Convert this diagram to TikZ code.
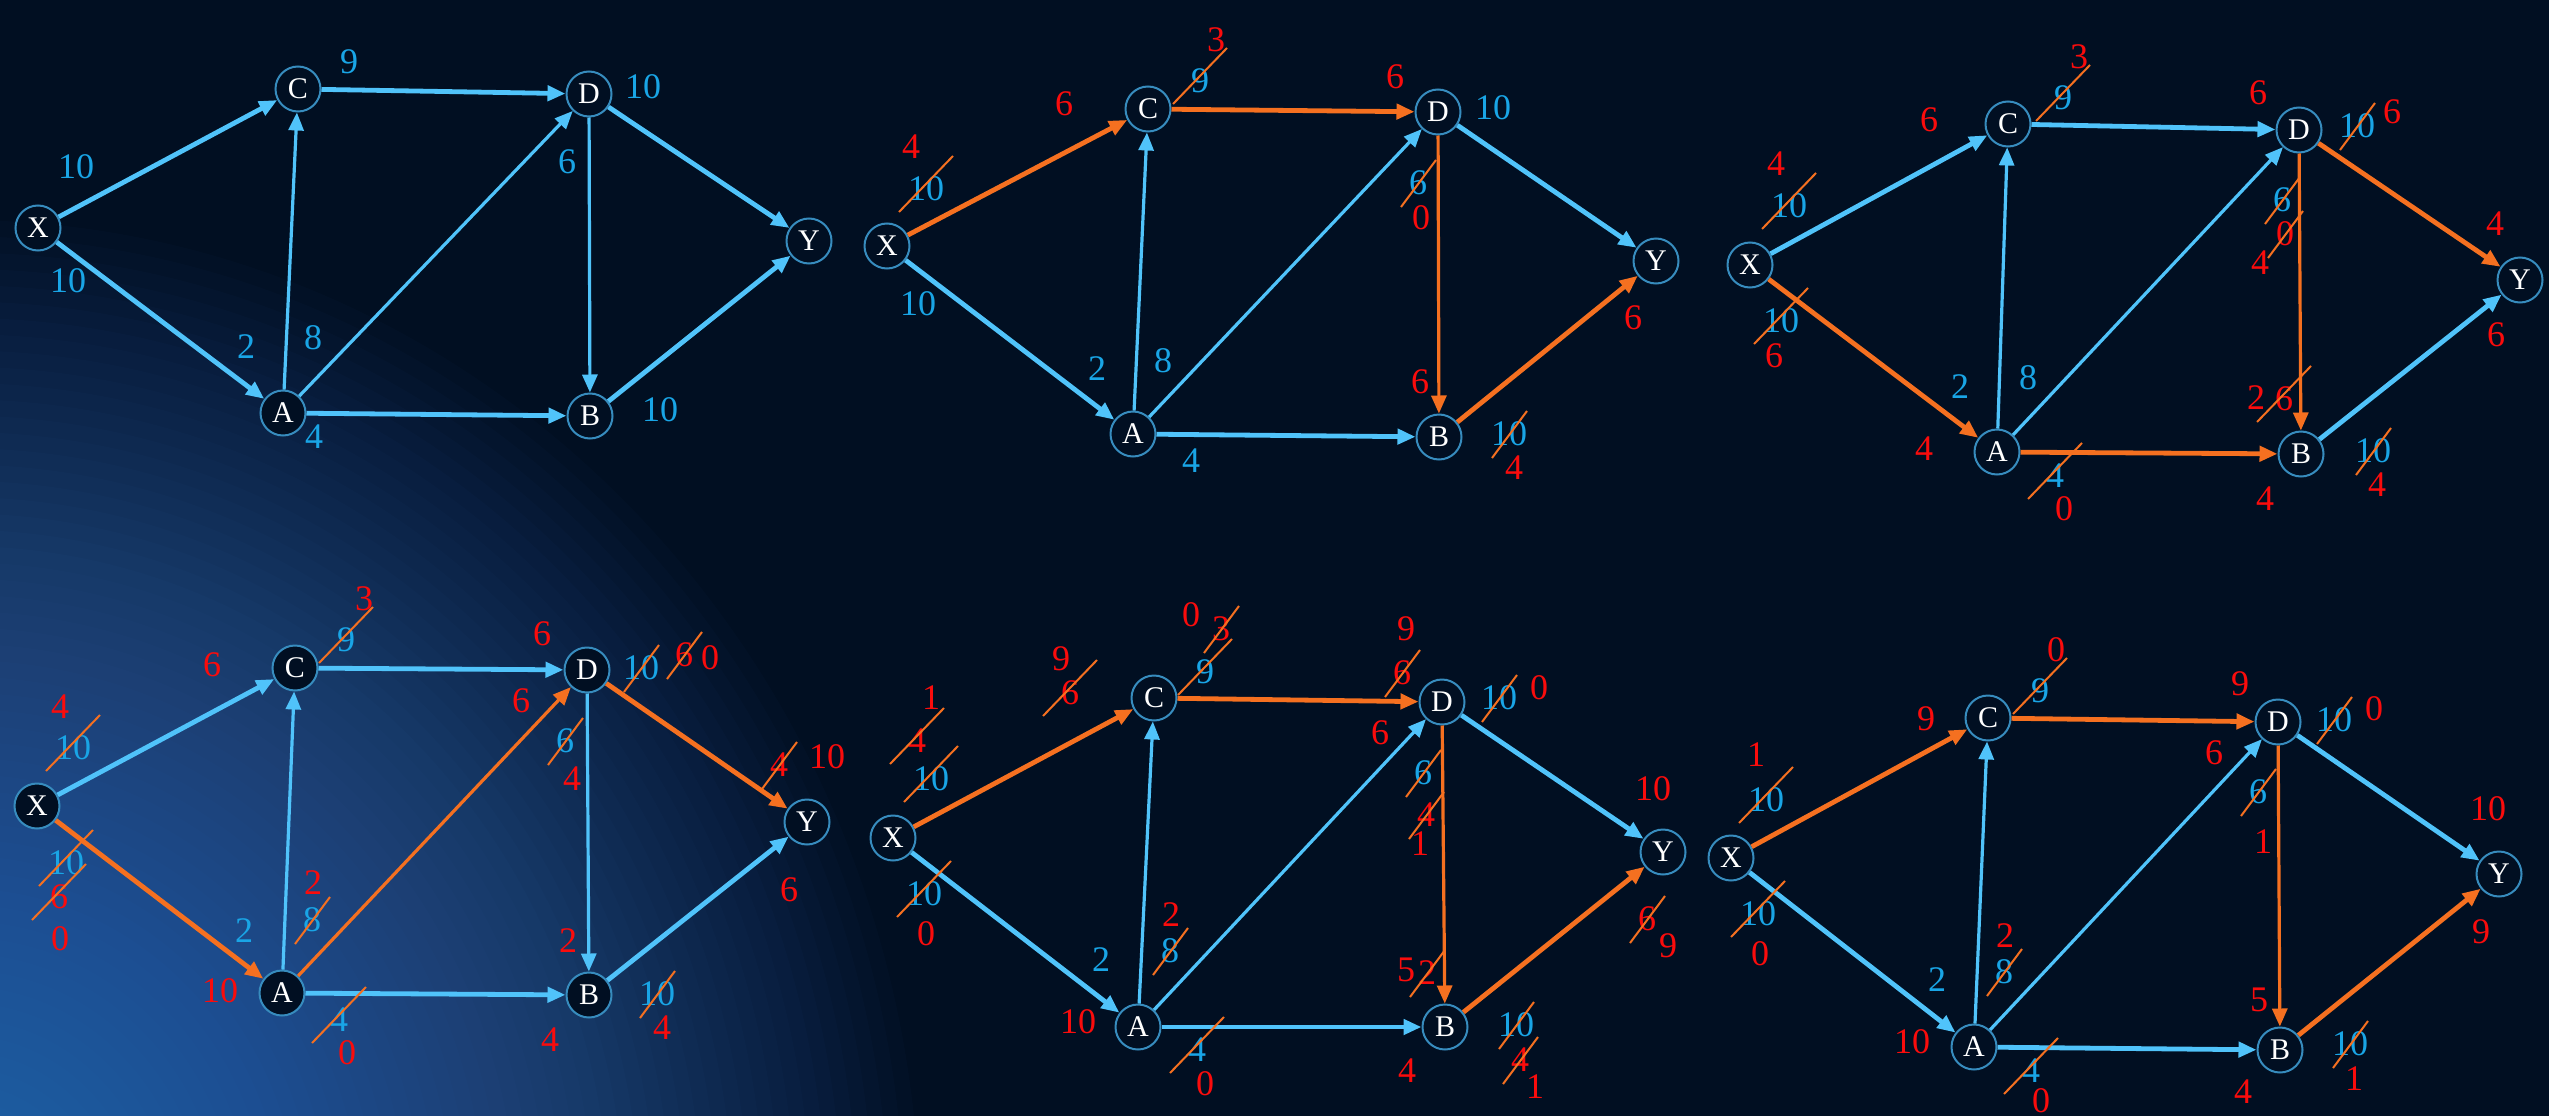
\documentclass[tikz,border=0pt]{standalone}
\usepackage{fontspec}
\setmainfont{Liberation Serif}
\usetikzlibrary{arrows.meta}
\usepackage{xcolor}
\definecolor{bgnavy}{RGB}{1,15,34}
\definecolor{glowblue}{RGB}{70,140,230}
\definecolor{edgeblue}{RGB}{80,195,250}
\definecolor{capblue}{RGB}{25,165,230}
\definecolor{flowred}{RGB}{250,12,12}
\definecolor{floworange}{RGB}{245,112,32}
\definecolor{ringblue}{RGB}{55,140,190}
\tikzset{
  vertex/.style={circle, draw=ringblue, line width=2pt, fill=bgnavy, minimum size=45pt, inner sep=0pt, text=white, font=\fontsize{30}{30}\selectfont},
  capnum/.style={text=capblue, inner sep=0pt, font=\fontsize{36}{36}\selectfont},
  flownum/.style={text=flowred, inner sep=0pt, font=\fontsize{36}{36}\selectfont},
  strikeline/.style={draw=floworange, line width=2pt},
  cutlong/.style={append after command={([shift={(-27,23)}]\tikzlastnode.center) edge[strikeline] ([shift={(27,-33)}]\tikzlastnode.center)}},
  cutshort/.style={append after command={([shift={(-17,24)}]\tikzlastnode.center) edge[strikeline] ([shift={(18,-23)}]\tikzlastnode.center)}},
  capcut/.style={capnum, cutlong},
  capcutshort/.style={capnum, cutshort},
  flowcut/.style={flownum, cutlong},
  flowcutshort/.style={flownum, cutshort},
  arrowtip/.style={-{Triangle[length=18pt, width=15pt]}},
  bluewide/.style={arrowtip, draw=edgeblue, line width=4.8pt},
  bluethin/.style={arrowtip, draw=edgeblue, line width=3.2pt},
  orwide/.style={arrowtip, draw=floworange, line width=4.8pt},
  orthin/.style={arrowtip, draw=floworange, line width=3.2pt}
}

\begin{document}
\begin{tikzpicture}[x=1pt, y=-1pt]
\useasboundingbox (0,0) rectangle (2549,1116);
\fill[bgnavy] (0,0) rectangle (2549,1116);
\begin{scope}
  \clip (0,0) rectangle (2549,1116);
  % soft glow in the lower left corner
  \foreach \r in {0,...,59}
    \fill[glowblue, fill opacity=0.022] (-40,1230) ellipse [x radius={960-\r*15.5}, y radius={1010-\r*16.3}];
\end{scope}

% panel 1
\node[vertex] (X1) at (38,228) {X};
\node[vertex] (C1) at (298,89) {C};
\node[vertex] (D1) at (589,94) {D};
\node[vertex] (Y1) at (809,241) {Y};
\node[vertex] (A1) at (283,413) {A};
\node[vertex] (B1) at (590,416) {B};
\foreach \a/\b/\s in {X/C/bluewide, X/A/bluewide, A/C/bluethin, C/D/bluewide, A/D/bluethin, A/B/bluewide, D/B/bluethin, D/Y/bluewide, B/Y/bluewide}
  \draw[\s] (\a1) -- (\b1);
\foreach \x/\y/\s/\t [count=\i] in {349/62/capnum/9, 643/87/capnum/10, 76/167/capnum/10, 68/281/capnum/10, 567/162/capnum/6, 246/347/capnum/2, 313/338/capnum/8, 314/437/capnum/4, 660/410/capnum/10}
  \node[\s] (n1-\i) at (\x,\y) {\t};

% panel 2
\node[vertex] (X2) at (887,246) {X};
\node[vertex] (C2) at (1148,109) {C};
\node[vertex] (D2) at (1438,112) {D};
\node[vertex] (Y2) at (1656,261) {Y};
\node[vertex] (A2) at (1133,434) {A};
\node[vertex] (B2) at (1439,437) {B};
\foreach \a/\b/\s in {X/C/orwide, X/A/bluewide, A/C/bluethin, C/D/orwide, A/D/bluethin, A/B/bluewide, D/B/orthin, D/Y/bluewide, B/Y/orwide}
  \draw[\s] (\a2) -- (\b2);
\foreach \x/\y/\s/\t [count=\i] in {1216/40/flownum/3, 1200/81/capcut/9, 1064/104/flownum/6, 911/147/flownum/4, 926/189/capcut/10, 1395/77/flownum/6, 1493/108/capnum/10, 1418/183/capcutshort/6, 1421/218/flownum/0, 918/304/capnum/10, 1097/369/capnum/2, 1163/361/capnum/8, 1420/382/flownum/6, 1191/461/capnum/4, 1509/434/capcutshort/10, 1514/468/flownum/4, 1633/318/flownum/6}
  \node[\s] (n2-\i) at (\x,\y) {\t};

% panel 3
\node[vertex] (X3) at (1750,265) {X};
\node[vertex] (C3) at (2008,124) {C};
\node[vertex] (D3) at (2299,130) {D};
\node[vertex] (Y3) at (2520,280) {Y};
\node[vertex] (A3) at (1997,452) {A};
\node[vertex] (B3) at (2301,454) {B};
\foreach \a/\b/\s in {X/C/bluewide, X/A/orwide, A/C/bluethin, C/D/bluewide, A/D/bluethin, A/B/orwide, D/B/orthin, D/Y/orwide, B/Y/bluewide}
  \draw[\s] (\a3) -- (\b3);
\foreach \x/\y/\s/\t [count=\i] in {2079/57/flownum/3, 2063/98/capcut/9, 1929/120/flownum/6, 1776/164/flownum/4, 1789/206/capcut/10, 1781/321/capcut/10, 1774/356/flownum/6, 1924/449/flownum/4, 1960/387/capnum/2, 2028/378/capnum/8, 2055/476/capcut/4, 2064/509/flownum/0, 2258/93/flownum/6, 2357/126/capcutshort/10, 2392/112/flownum/6, 2282/200/capcutshort/6, 2285/234/flowcutshort/0, 2260/263/flownum/4, 2256/398/flownum/2, 2284/399/flowcut/6, 2265/499/flownum/4, 2373/451/capcutshort/10, 2377/485/flownum/4, 2495/224/flownum/4, 2496/335/flownum/6}
  \node[\s] (n3-\i) at (\x,\y) {\t};

% panel 4
\node[vertex] (X4) at (37,806) {X};
\node[vertex] (C4) at (295,668) {C};
\node[vertex] (D4) at (587,670) {D};
\node[vertex] (Y4) at (807,822) {Y};
\node[vertex] (A4) at (282,993) {A};
\node[vertex] (B4) at (589,995) {B};
\foreach \a/\b/\s in {X/C/bluewide, X/A/orwide, A/C/bluethin, C/D/bluewide, A/D/orthin, A/B/bluewide, D/B/bluethin, D/Y/orwide, B/Y/bluewide}
  \draw[\s] (\a4) -- (\b4);
\foreach \x/\y/\s/\t [count=\i] in {364/599/flownum/3, 346/640/capcut/9, 212/665/flownum/6, 60/707/flownum/4, 73/748/capcut/10, 66/863/capcut/10, 59/897/flowcut/6, 60/939/flownum/0, 220/991/flownum/10, 244/931/capnum/2, 313/883/flownum/2, 312/920/capcutshort/8, 339/1020/capcut/4, 347/1053/flownum/0, 542/634/flownum/6, 641/668/capcutshort/10, 684/655/flowcutshort/6, 710/658/flownum/0, 521/701/flownum/6, 565/741/capcutshort/6, 572/779/flownum/4, 568/941/flownum/2, 550/1040/flownum/4, 657/994/capcutshort/10, 662/1028/flownum/4, 779/765/flowcutshort/4, 827/757/flownum/10, 789/890/flownum/6}
  \node[\s] (n4-\i) at (\x,\y) {\t};

% panel 5
\node[vertex] (X5) at (893,838) {X};
\node[vertex] (C5) at (1154,698) {C};
\node[vertex] (D5) at (1442,702) {D};
\node[vertex] (Y5) at (1663,852) {Y};
\node[vertex] (A5) at (1138,1027) {A};
\node[vertex] (B5) at (1445,1027) {B};
\foreach \a/\b/\s in {X/C/orwide, X/A/bluewide, A/C/bluethin, C/D/orwide, A/D/bluethin, A/B/bluewide, D/B/orthin, D/Y/bluewide, B/Y/orwide}
  \draw[\s] (\a5) -- (\b5);
\foreach \x/\y/\s/\t [count=\i] in {1191/615/flownum/0, 1221/629/flowcutshort/3, 1205/672/capcut/9, 1061/659/flownum/9, 1070/693/flowcut/6, 931/698/flownum/1, 917/741/flowcut/4, 931/779/capcut/10, 924/894/capcut/10, 926/934/flownum/0, 1078/1022/flownum/10, 1101/960/capnum/2, 1171/915/flownum/2, 1170/951/capcutshort/8, 1197/1050/capcut/4, 1205/1084/flownum/0, 1406/629/flownum/9, 1402/673/flowcutshort/6, 1499/698/capcutshort/10, 1539/688/flownum/0, 1380/733/flownum/6, 1423/773/capcutshort/6, 1426/815/flowcutshort/4, 1420/844/flownum/1, 1406/970/flownum/5, 1427/973/flowcutshort/2, 1407/1071/flownum/4, 1516/1025/capcutshort/10, 1520/1060/flowcutshort/4, 1535/1087/flownum/1, 1653/789/flownum/10, 1647/919/flowcutshort/6, 1668/946/flownum/9}
  \node[\s] (n5-\i) at (\x,\y) {\t};

% panel 6
\node[vertex] (X6) at (1731,858) {X};
\node[vertex] (C6) at (1988,718) {C};
\node[vertex] (D6) at (2278,722) {D};
\node[vertex] (Y6) at (2499,874) {Y};
\node[vertex] (A6) at (1974,1047) {A};
\node[vertex] (B6) at (2280,1050) {B};
\foreach \a/\b/\s in {X/C/orwide, X/A/bluewide, A/C/bluethin, C/D/orwide, A/D/bluethin, A/B/bluewide, D/B/orthin, D/Y/bluewide, B/Y/orwide}
  \draw[\s] (\a6) -- (\b6);
\foreach \x/\y/\s/\t [count=\i] in {2056/650/flownum/0, 2040/691/capcut/9, 1926/719/flownum/9, 1756/755/flownum/1, 1766/800/capcut/10, 1758/914/capcut/10, 1760/954/flownum/0, 1912/1042/flownum/10, 1937/980/capnum/2, 2005/936/flownum/2, 2004/972/capcutshort/8, 2031/1071/capcut/4, 2041/1101/flownum/0, 2240/684/flownum/9, 2334/720/capcutshort/10, 2374/709/flownum/0, 2214/753/flownum/6, 2258/792/capcutshort/6, 2263/842/flownum/1, 2259/1000/flownum/5, 2243/1092/flownum/4, 2350/1044/capcutshort/10, 2354/1079/flownum/1, 2488/809/flownum/10, 2481/932/flownum/9}
  \node[\s] (n6-\i) at (\x,\y) {\t};
\end{tikzpicture}
\end{document}
